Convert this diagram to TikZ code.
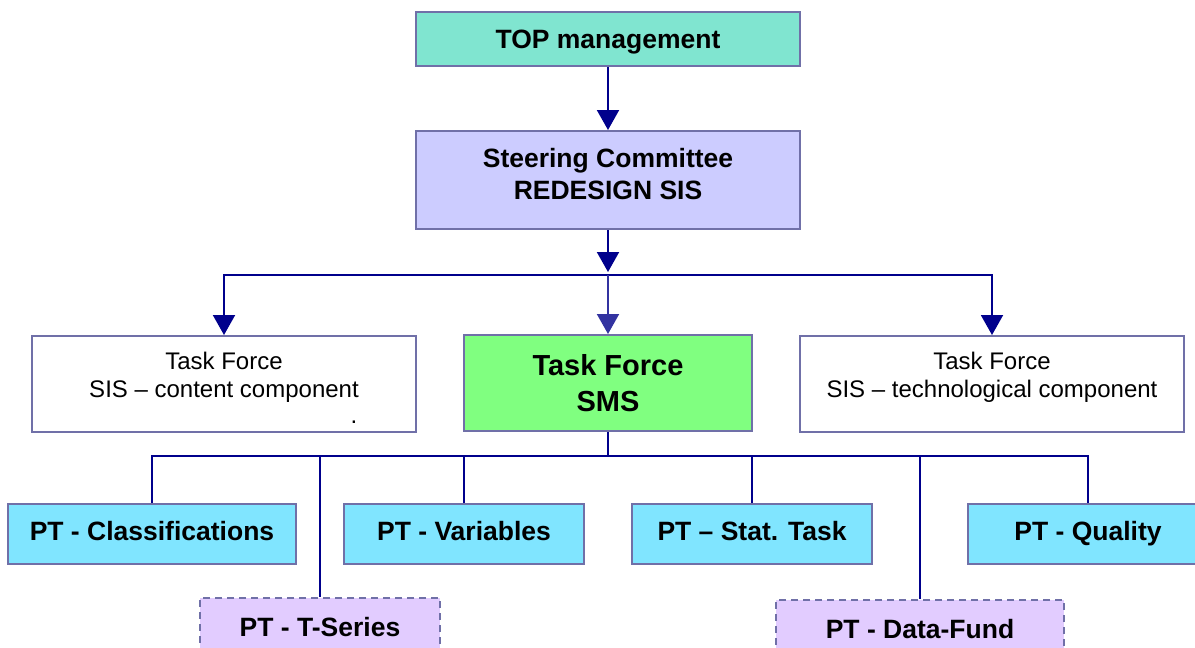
\documentclass[tikz,border=0pt]{standalone}
\usepackage{fontspec}
\setmainfont{Liberation Sans}
\usetikzlibrary{arrows.meta}
\definecolor{edgeblue}{RGB}{112,112,168}
\definecolor{navy}{RGB}{0,0,140}
\definecolor{midnavy}{RGB}{51,51,160}
\definecolor{topfill}{RGB}{128,229,208}
\definecolor{steerfill}{RGB}{204,204,255}
\definecolor{smsfill}{RGB}{128,255,128}
\definecolor{ptfill}{RGB}{128,229,255}
\definecolor{optfill}{RGB}{226,204,255}
\tikzset{
  box/.style={draw=edgeblue, line width=2pt, rectangle, inner sep=0pt, align=center},
  headbox/.style={box, font=\fontsize{26.5}{32}\selectfont\bfseries},
  tfbox/.style={box, fill=white, minimum width=384pt, minimum height=96pt},
  plain/.style={font=\fontsize{24}{28}\selectfont, align=center},
  ptbox/.style={box, fill=ptfill, minimum height=60pt, text height=19pt, text depth=6pt,
    font=\fontsize{26.5}{32}\selectfont\bfseries},
  optbox/.style={box, fill=optfill, dashed, dash pattern=on 7pt off 5pt,
    minimum height=58pt, font=\fontsize{26.5}{32}\selectfont\bfseries},
  arr/.style={draw=navy, line width=2pt, -{Triangle[width=22pt,length=20pt]}},
  arrmid/.style={draw=midnavy, line width=2pt, -{Triangle[width=22pt,length=20pt]}},
  link/.style={draw=navy, line width=2pt},
}
\begin{document}
\begin{tikzpicture}[x=1pt, y=-1pt]
\useasboundingbox (0,0) rectangle (1195,648);
\clip (0,0) rectangle (1195,648);

% management levels
\node[headbox, fill=topfill, minimum width=384pt, minimum height=54pt,
  text height=19pt, text depth=0pt] (top) at (608,39) {TOP management};
\node[headbox, fill=steerfill, minimum width=384pt, minimum height=98pt] (steer) at (608,180) {};
\node[font=\fontsize{26.5}{32}\selectfont\bfseries, align=center] (steertext) at (608,174) {Steering Committee\\REDESIGN SIS};

% task forces
\node[tfbox] (tfl) at (224,384) {};
\node[plain] (tfltext) at (224,377) {Task Force\\SIS -- content component};
\node[plain] (tfldot) at (354,422) {.};
\node[box, fill=smsfill, minimum width=288pt, minimum height=96pt,
  font=\fontsize{29}{36}\selectfont\bfseries] (sms) at (608,383) {Task Force\\SMS};
\node[tfbox] (tfr) at (992,384) {};
\node[plain] (tfrtext) at (992,377) {Task Force\\SIS -- technological component};

% project teams
\node[ptbox, minimum width=288pt] (cls) at (152,534) {PT - Classifications};
\node[ptbox, minimum width=240pt] (var) at (464,534) {PT - Variables};
\node[ptbox, minimum width=240pt] (stat) at (752,534) {PT -- Stat. Task};
\node[ptbox, minimum width=240pt] (qual) at (1088,534) {PT - Quality};
\node[optbox, minimum width=240pt] (tser) at (320,627) {PT - T-Series};
\node[optbox, minimum width=288pt] (dfund) at (920,629) {PT - Data-Fund};

% junctions
\coordinate (j1) at (608,275);
\coordinate (j2) at (608,456);

% connectors
\draw[arr] (top) -- (steer);
\draw[arr] (j1) -| (tfl.north);
\draw[arr] (j1) -| (tfr.north);
\draw[arrmid] (j1) -- (sms.north);
\draw[arr] (steer.south) -- ([yshift=3pt]j1);

\draw[link] (sms.south) -- (j2);
\draw[link] (j2) -| (cls.north);
\draw[link] (j2) -| (tser.north);
\draw[link] (j2) -| (var.north);
\draw[link] (j2) -| (stat.north);
\draw[link] (j2) -| (dfund.north);
\draw[link] (j2) -| (qual.north);
\end{tikzpicture}
\end{document}
